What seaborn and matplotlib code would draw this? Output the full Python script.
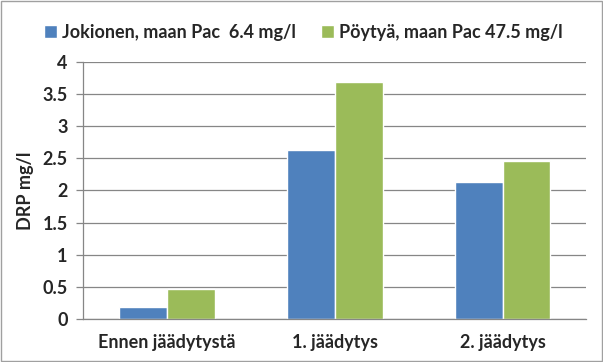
import pandas as pd
import matplotlib
matplotlib.use("Agg")
import matplotlib.pyplot as plt
import seaborn as sns

categories = ["Ennen jäädytystä", "1. jäädytys", "2. jäädytys"]
series = ["Jokionen, maan Pac  6.4 mg/l", "Pöytyä, maan Pac 47.5 mg/l"]
jokionen = [0.18, 2.63, 2.13]
poytya = [0.46, 3.68, 2.45]

C_BLUE = "#4F81BD"
C_GREEN = "#9BBB59"
C_GRID = "#868686"

sns.set_theme(style="white")
plt.rcParams["font.family"] = ["Lato", "DejaVu Sans"]
plt.rcParams["font.weight"] = "bold"

df = pd.DataFrame({
    "cat": categories * 2,
    "series": [series[0]] * 3 + [series[1]] * 3,
    "value": jokionen + poytya,
})

fig = plt.figure(figsize=(6.03, 3.62), dpi=100)
ax = fig.add_axes([0.1376, 0.119, 0.835, 0.710])
sns.barplot(data=df, x="cat", y="value", hue="series", palette=[C_BLUE, C_GREEN],
            width=0.57, saturation=1, ax=ax, legend=True)

ax.set_ylim(0, 4)
ax.set_xlim(-0.5, 2.5)
ax.set_yticks([0, 0.5, 1, 1.5, 2, 2.5, 3, 3.5, 4])
ax.set_yticklabels(["0", "0.5", "1", "1.5", "2", "2.5", "3", "3.5", "4"])
ax.yaxis.grid(True, color=C_GRID, linewidth=0.9)
ax.set_axisbelow(True)
for s in ["top", "right"]:
    ax.spines[s].set_visible(False)
for s in ["left", "bottom"]:
    ax.spines[s].set_color(C_GRID)
    ax.spines[s].set_linewidth(0.9)

# category boundary ticks on x
ax.set_xticks([-0.5, 0.5, 1.5, 2.5], minor=True)
ax.tick_params(axis="x", which="minor", length=5, color=C_GRID, width=0.9, direction="out")
ax.tick_params(axis="x", which="major", length=0, pad=11, labelsize=13)
ax.tick_params(axis="y", length=5, color=C_GRID, width=0.9, direction="out", left=True,
               pad=6, labelsize=13)
ax.set_xlabel("")
ax.set_ylabel("DRP mg/l", fontsize=13, fontweight="bold", labelpad=6)
for lab in ax.get_xticklabels() + ax.get_yticklabels():
    lab.set_fontweight("bold")

handles, labels = ax.get_legend_handles_labels()
ax.get_legend().remove()
fig.legend(handles, labels, loc="center", bbox_to_anchor=(0.503, 0.91),
           ncol=2, frameon=False, handlelength=0.7, handleheight=0.7,
           handletextpad=0.3, columnspacing=1.4,
           prop={"weight": "bold", "size": 13})

fig.patches.append(plt.Rectangle((0.002, 0.003), 0.996, 0.994, transform=fig.transFigure,
                                 fill=False, edgecolor="#A0A0A0", linewidth=1))
fig.savefig("out.png", dpi=100, facecolor="white")
